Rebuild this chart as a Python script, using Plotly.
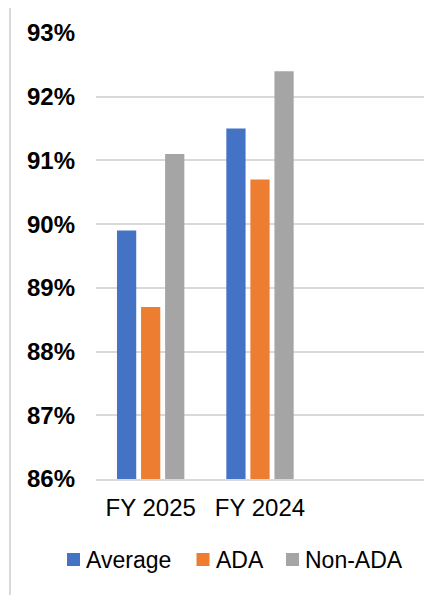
import plotly.graph_objects as go

categories = ["FY 2025", "FY 2024"]
series_names = ["Average", "ADA", "Non-ADA"]
average = [89.9, 91.5]
ada = [88.7, 90.7]
non_ada = [91.1, 92.4]
y_ticks = [86, 87, 88, 89, 90, 91, 92, 93]
y_tick_labels = [f"{v}%" for v in y_ticks]

colors = ["#4472C4", "#ED7D31", "#A5A5A5"]
OFF = 8  # default page body margin
PW, PH = 447, 595
W, H = PW - OFF, PH - OFF
# plot area in page pixels: x 96..424, y 33..479
L, R, T, B = 96 - OFF, PW - 424, 33 - OFF, PH - 479

fig = go.Figure()
for name, vals, c in zip(series_names, [average, ada, non_ada], colors):
    fig.add_trace(go.Bar(x=categories, y=vals, name=name, showlegend=False,
                         marker=dict(color=c, line=dict(width=0))))

pw = W - L - R
ph = H - T - B
def px(x):  # page x -> paper x
    return (x - OFF - L) / pw
def py(y):  # page y -> paper y
    return (H - B - (y - OFF)) / ph

FONT = "Liberation Sans, Arial, sans-serif"

# manual legend layout (page pixels)
legend_swatch_left = [67, 196.5, 286]
legend_y = 559.5
sw = 13
shapes = [dict(type="rect", xref="paper", yref="paper",
               x0=px(10), x1=px(PW + 5), y0=py(PH + 10), y1=py(4),
               line=dict(color="#D9D9D9", width=2), fillcolor="rgba(0,0,0,0)", layer="below")]
annotations = []
for name, c, xl in zip(series_names, colors, legend_swatch_left):
    shapes.append(dict(type="rect", xref="paper", yref="paper",
                       x0=px(xl), x1=px(xl + sw), y0=py(legend_y + sw / 2), y1=py(legend_y - sw / 2),
                       line=dict(width=0), fillcolor=c))
    annotations.append(dict(text=name, xref="paper", yref="paper", x=px(xl + sw + 4),
                            y=py(legend_y), xanchor="left", yanchor="middle", showarrow=False,
                            font=dict(size=23, color="#000000", family=FONT)))

fig.update_layout(
    width=W, height=H,
    margin=dict(l=L, r=R, t=T, b=B, autoexpand=False),
    paper_bgcolor="white", plot_bgcolor="white",
    barmode="group", bargap=0.34, bargroupgap=0.2,
    font=dict(family=FONT, color="#000000"),
    showlegend=False,
    xaxis=dict(type="category", range=[-0.5, 2.5], showgrid=False, showline=True,
               linecolor="#D9D9D9", linewidth=1.5, ticks="", tickfont=dict(size=24),
               ticklabelstandoff=6, fixedrange=True),
    yaxis=dict(range=[86, 93], tickvals=y_ticks, ticktext=y_tick_labels,
               showgrid=True, gridcolor="#D9D9D9", gridwidth=1.5, zeroline=False,
               showline=False, ticks="", ticklabelstandoff=20,
               tickfont=dict(size=24, family=FONT, weight="bold"),
               fixedrange=True),
    shapes=shapes,
    annotations=annotations,
)

fig.write_html("out.html")
